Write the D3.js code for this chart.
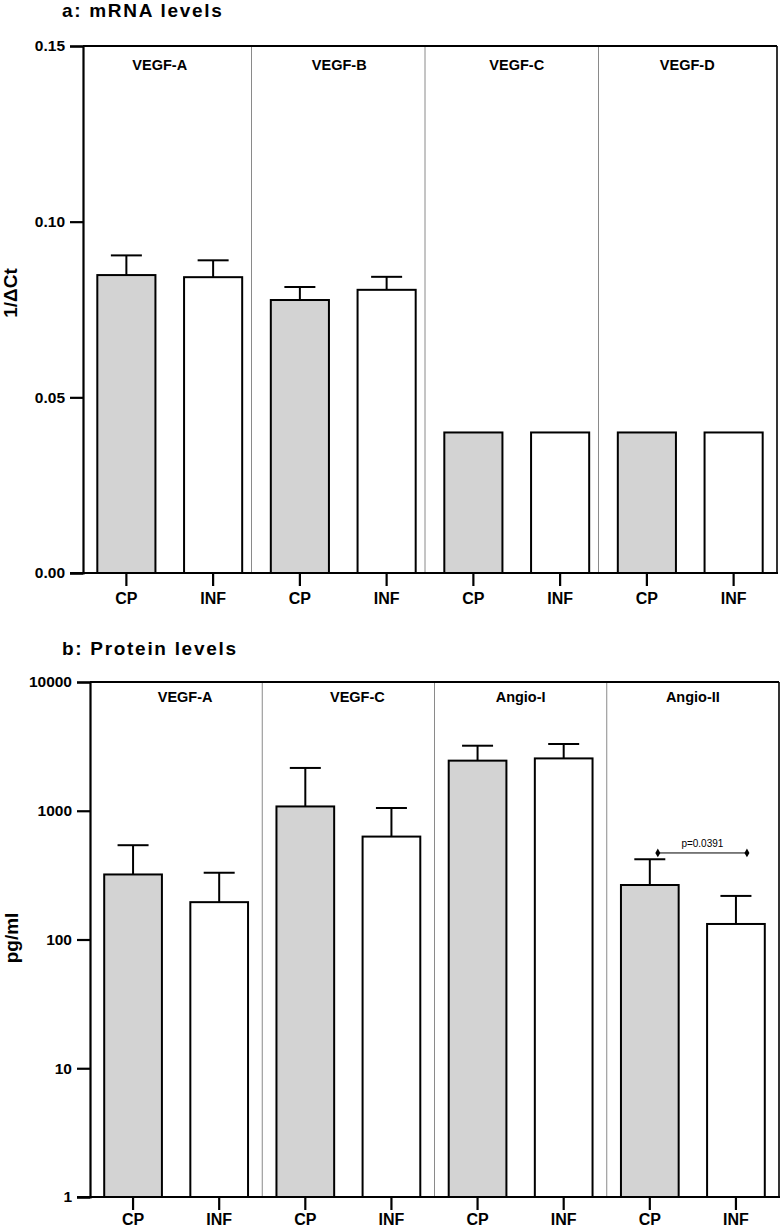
<!DOCTYPE html>
<html>
<head>
<meta charset="utf-8">
<script src="https://cdn.jsdelivr.net/npm/d3@7"></script>
<style>
  html, body { margin: 0; padding: 0; background: #fff; }
  svg { display: block; }
  text { font-family: "Liberation Sans", Arial, sans-serif; fill: #000; }
</style>
</head>
<body>
<svg id="chart" width="782" height="1229"></svg>
<script>
// ---------- data ----------
const conditions = ["CP", "INF"];

// panel a: mRNA levels (1/ΔCt)
const mrnaGroups = ["VEGF-A", "VEGF-B", "VEGF-C", "VEGF-D"];
const mrnaCP = [0.0848, 0.0777, 0.040, 0.040];
const mrnaINF = [0.0842, 0.0806, 0.040, 0.040];
const mrnaCPUpper = [0.0904, 0.0814, null, null];   // top of error bar
const mrnaINFUpper = [0.0890, 0.0843, null, null];
const mrnaTicks = [0.00, 0.05, 0.10, 0.15];

// panel b: protein levels (pg/ml, log scale)
const protGroups = ["VEGF-A", "VEGF-C", "Angio-I", "Angio-II"];
const protCP = [320, 1080, 2450, 265];
const protINF = [195, 630, 2550, 132];
const protCPUpper = [540, 2150, 3200, 420];
const protINFUpper = [330, 1050, 3300, 218];
const protTicks = [1, 10, 100, 1000, 10000];

// significance annotation (panel b)
const sigGroup = "Angio-II";
const sigLevel = 470;
const sigLabel = "p=0.0391";

// ---------- drawing ----------
const svg = d3.select("#chart");

function drawPanel(o) {
  const g = svg.append("g");
  const slots = [];
  o.groups.forEach((grp, i) => conditions.forEach(c => slots.push(grp + "|" + c)));

  const x = d3.scaleBand().domain(slots).range([o.left, o.right]).paddingInner(0.33).paddingOuter(0.165);
  const y = o.log
    ? d3.scaleLog().domain([o.ticks[0], o.ticks[o.ticks.length - 1]]).range([o.bottom, o.top])
    : d3.scaleLinear().domain([o.ticks[0], o.ticks[o.ticks.length - 1]]).range([o.bottom, o.top]);
  const step = x.step();

  // title
  g.append("text").attr("x", o.titleX).attr("y", o.titleY)
    .attr("font-size", 19).attr("font-weight", "bold").attr("letter-spacing", 1.7)
    .text(o.title);

  // group dividers
  o.groups.forEach((grp, i) => {
    if (i === 0) return;
    const bx = x(grp + "|CP") - (step - x.bandwidth()) / 2 + o.dividerShift;
    g.append("line").attr("x1", bx).attr("x2", bx).attr("y1", o.top).attr("y2", o.bottom)
      .attr("stroke", "#8a8a8a").attr("stroke-width", 1);
  });

  // frame: top and right
  g.append("line").attr("x1", o.left).attr("x2", o.right).attr("y1", o.top).attr("y2", o.top)
    .attr("stroke", "#000").attr("stroke-width", 2.2);
  g.append("line").attr("x1", o.right).attr("x2", o.right).attr("y1", o.top).attr("y2", o.bottom)
    .attr("stroke", "#000").attr("stroke-width", 1.6);

  // group labels
  o.groups.forEach((grp, i) => {
    const cx = (x(grp + "|CP") + x(grp + "|INF") + x.bandwidth()) / 2 + o.labelShift[i];
    g.append("text").attr("x", cx).attr("y", o.labelY).attr("text-anchor", "middle")
      .attr("font-size", 14.5).attr("font-weight", "bold").text(grp);
  });

  // bars
  const bars = [];
  o.groups.forEach((grp, i) => {
    bars.push({ key: grp + "|CP", v: o.cp[i], up: o.cpUp[i], fill: "#d3d3d3" });
    bars.push({ key: grp + "|INF", v: o.inf[i], up: o.infUp[i], fill: "#ffffff" });
  });
  const capHalf = 15.5;
  bars.forEach(b => {
    const cx = x(b.key) + x.bandwidth() / 2;
    if (b.up != null) {
      g.append("line").attr("x1", cx).attr("x2", cx).attr("y1", y(b.v)).attr("y2", y(b.up))
        .attr("stroke", "#000").attr("stroke-width", 2);
      g.append("line").attr("x1", cx - capHalf).attr("x2", cx + capHalf).attr("y1", y(b.up)).attr("y2", y(b.up))
        .attr("stroke", "#000").attr("stroke-width", 2);
    }
    g.append("rect").attr("x", x(b.key)).attr("width", x.bandwidth())
      .attr("y", y(b.v)).attr("height", o.bottom - y(b.v))
      .attr("fill", b.fill).attr("stroke", "#000").attr("stroke-width", 2);
  });

  // y axis
  const yAxis = d3.axisLeft(y).tickValues(o.ticks).tickSize(13).tickPadding(5).tickFormat(o.fmt);
  const ya = g.append("g").attr("transform", `translate(${o.left},0)`).call(yAxis);
  ya.select(".domain").attr("stroke-width", 2.2);
  ya.selectAll(".tick line").attr("stroke-width", 2.2);
  ya.selectAll(".tick text").attr("font-size", 15.5).attr("font-weight", "bold")
    .attr("font-family", "Liberation Sans, Arial, sans-serif").attr("fill", "#000");

  // x axis
  const xAxis = d3.axisBottom(x).tickSize(13).tickPadding(o.xPad).tickSizeOuter(0)
    .tickFormat(d => d.split("|")[1]);
  const xa = g.append("g").attr("transform", `translate(0,${o.bottom})`).call(xAxis);
  xa.select(".domain").remove();
  xa.selectAll(".tick line").attr("stroke-width", 2.2);
  xa.selectAll(".tick text").attr("font-size", 16).attr("font-weight", "bold")
    .attr("font-family", "Liberation Sans, Arial, sans-serif").attr("fill", "#000");
  g.append("line").attr("x1", o.left - 13).attr("x2", o.right + 1).attr("y1", o.bottom).attr("y2", o.bottom)
    .attr("stroke", "#000").attr("stroke-width", 2.2);

  // y title
  g.append("text").attr("transform", `translate(${o.yTitleX},${o.yTitleY}) rotate(-90)`)
    .attr("text-anchor", "middle").attr("font-size", 19).attr("font-weight", "bold").text(o.yTitle);

  // significance
  if (o.sig) {
    const x1 = x(o.sig.group + "|CP") + x.bandwidth() / 2 + 8;
    const x2 = x(o.sig.group + "|INF") + x.bandwidth() / 2 + 11;
    const sy = y(o.sig.level);
    g.append("line").attr("x1", x1).attr("x2", x2).attr("y1", sy).attr("y2", sy)
      .attr("stroke", "#000").attr("stroke-width", 1);
    [x1, x2].forEach(px => {
      g.append("path").attr("d", d3.symbol(d3.symbolDiamond, 22)())
        .attr("transform", `translate(${px},${sy})`).attr("fill", "#000");
    });
    g.append("text").attr("x", (x1 + x2) / 2).attr("y", sy - 6).attr("text-anchor", "middle")
      .attr("font-size", 10).text(o.sig.label);
  }
}

drawPanel({
  title: "a: mRNA levels", titleX: 62, titleY: 17,
  groups: mrnaGroups, cp: mrnaCP, inf: mrnaINF, cpUp: mrnaCPUpper, infUp: mrnaINFUpper,
  ticks: mrnaTicks, log: false, fmt: d3.format(".2f"),
  left: 83, right: 777, top: 46, bottom: 573, labelY: 70, dividerShift: -5,
  labelShift: [-10, -4, 0, -3], xPad: 7,
  yTitle: "1/\u0394Ct", yTitleX: 17, yTitleY: 293
});

drawPanel({
  title: "b: Protein levels", titleX: 62, titleY: 655,
  groups: protGroups, cp: protCP, inf: protINF, cpUp: protCPUpper, infUp: protINFUpper,
  ticks: protTicks, log: true, fmt: d3.format("d"),
  left: 90, right: 779, top: 682, bottom: 1197, labelY: 702, dividerShift: 0,
  labelShift: [9, 9, 0, 0], xPad: 4,
  yTitle: "pg/ml", yTitleX: 18, yTitleY: 938,
  sig: { group: sigGroup, level: sigLevel, label: sigLabel }
});
</script>
</body>
</html>
